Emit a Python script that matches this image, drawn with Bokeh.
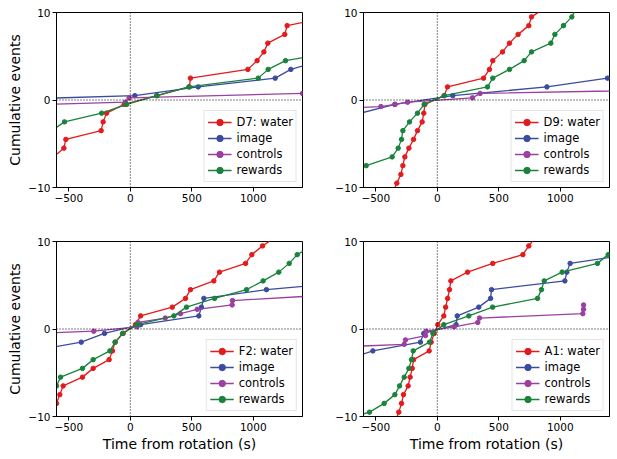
from bokeh.plotting import figure
from bokeh.models import Span, Legend, LegendItem
from bokeh.layouts import column, row
from bokeh.embed import file_html
from bokeh.resources import INLINE

# ---------------- data ----------------
D7_water_t = [-623, -540, -524, -237, -221, -193, -50, 216, 480, 489, 956, 1031, 1086, 1118, 1256, 1275, 1620]
D7_water_y = [-6.5, -5.5, -4.5, -3.5, -2.5, -1.5, -0.5, 0.5, 1.5, 2.5, 3.5, 4.5, 5.5, 6.5, 7.5, 8.5, 9.5]
D7_image_t = [-2320, 37, 552, 1178, 1305, 1555]
D7_image_y = [-0.5, 0.5, 1.5, 2.5, 3.5, 4.5]
D7_controls_t = [-1300, -40, -10, 1400]
D7_controls_y = [-0.75, -0.25, 0.25, 0.75]
D7_rewards_t = [-640, -535, -233, -30, 216, 476, 1040, 1121, 1262, 1680]
D7_rewards_y = [-3.5, -2.5, -1.5, -0.5, 0.5, 1.5, 2.5, 3.5, 4.5, 5.5]

D9_water_t = [-362, -329, -296, -280, -264, -231, -193, -161, -123, -110, -101, 56, 83, 376, 424, 451, 530, 587, 657, 744, 766, 874]
D9_water_y = [-10.5, -9.5, -8.5, -7.5, -6.5, -5.5, -4.5, -3.5, -2.5, -1.5, -0.5, 0.5, 1.5, 2.5, 3.5, 4.5, 5.5, 6.5, 7.5, 8.5, 9.5, 10.5]
D9_image_t = [-625, -345, 126, 891, 1384]
D9_image_y = [-1.5, -0.5, 0.5, 1.5, 2.5]
D9_controls_t = [-900, -459, -345, -242, 286, 348, 2230]
D9_controls_y = [-1.0, -0.75, -0.5, -0.25, 0.25, 0.75, 1.25]
D9_rewards_t = [-800, -578, -367, -318, -291, -280, -226, -161, -107, 56, 408, 451, 587, 706, 766, 923, 956, 1026, 1094, 1130]
D9_rewards_y = [-8.5, -7.5, -6.5, -5.5, -4.5, -3.5, -2.5, -1.5, -0.5, 0.5, 1.5, 2.5, 3.5, 4.5, 5.5, 6.5, 7.5, 8.5, 9.5, 10.5]

F2_water_t = [-620, -600, -573, -546, -389, -302, -172, -145, -123, -58, 42, 84, 341, 449, 489, 679, 725, 937, 988, 1075, 1180]
F2_water_y = [-9.5, -8.5, -7.5, -6.5, -5.5, -4.5, -3.5, -2.5, -1.5, -0.5, 0.5, 1.5, 2.5, 3.5, 4.5, 5.5, 6.5, 7.5, 8.5, 9.5, 10.5]
F2_image_t = [-800, -399, -210, 84, 557, 578, 598, 1107, 1900]
F2_image_y = [-2.5, -1.5, -0.5, 0.5, 1.5, 2.5, 3.5, 4.5, 5.5]
F2_controls_t = [-1200, -297, 55, 62, 284, 408, 544, 828, 831, 1450]
F2_controls_y = [-0.75, -0.25, 0.25, 0.75, 1.25, 1.75, 2.25, 2.75, 3.25, 3.75]
F2_rewards_t = [-620, -600, -567, -389, -302, -166, -123, -63, 56, 354, 457, 685, 945, 1080, 1207, 1292, 1357, 1480]
F2_rewards_y = [-7.5, -6.5, -5.5, -4.5, -3.5, -2.5, -1.5, -0.5, 0.5, 1.5, 2.5, 3.5, 4.5, 5.5, 6.5, 7.5, 8.5, 9.5]

A1_water_t = [-340, -313, -291, -275, -237, -221, -204, -193, -66, -50, -25, 4, 53, 68, 84, 99, 110, 246, 451, 696, 744, 800]
A1_water_y = [-10.5, -9.5, -8.5, -7.5, -6.5, -5.5, -4.5, -3.5, -2.5, -1.5, -0.5, 0.5, 1.5, 2.5, 3.5, 4.5, 5.5, 6.5, 7.5, 8.5, 9.5, 10.5]
A1_image_t = [-740, -524, -137, -110, 153, 162, 337, 433, 441, 1037, 1053, 1080, 1560]
A1_image_y = [-3.5, -2.5, -1.5, -0.5, 0.5, 1.5, 2.5, 3.5, 4.5, 5.5, 6.5, 7.5, 8.5]
A1_controls_t = [-700, -269, -259, -96, -90, 137, 329, 343, 1183, 1189, 1189]
A1_controls_y = [-2.0, -1.75, -1.25, -0.75, -0.25, 0.25, 0.75, 1.25, 1.75, 2.25, 2.75]
A1_rewards_t = [-800, -551, -432, -345, -307, -269, -231, -210, -196, -63, -36, 53, 256, 450, 815, 847, 869, 1015, 1302, 1389]
A1_rewards_y = [-10.5, -9.5, -8.5, -7.5, -6.5, -5.5, -4.5, -3.5, -2.5, -1.5, -0.5, 0.5, 1.5, 2.5, 3.5, 4.5, 5.5, 6.5, 7.5, 8.5]

series_labels = ["water", "image", "controls", "rewards"]
series_colors = ["#e41a1c", "#3b4ba0", "#9b3fa0", "#19833c"]
x_ticks = [-500, 0, 500, 1000]
y_ticks = [-10, 0, 10]
x_label = "Time from rotation (s)"
y_label = "Cumulative events"

FONT = "DejaVu Sans"


def make_panel(name, data, width, height, borders, xlabel, ylabel):
    bl, br, bt, bb = borders
    p = figure(width=width, height=height, x_range=(-600, 1400), y_range=(-10, 10),
               output_backend="svg", toolbar_location=None,
               min_border_left=bl, min_border_right=br, min_border_top=bt, min_border_bottom=bb)
    p.xgrid.visible = False
    p.ygrid.visible = False
    p.outline_line_color = "black"
    p.outline_line_alpha = 1
    p.outline_line_width = 1
    p.background_fill_color = "white"
    p.border_fill_color = "white"

    p.add_layout(Span(location=0, dimension="height", line_color="black", line_width=1, line_dash="1 2"))
    p.add_layout(Span(location=0, dimension="width", line_color="black", line_width=1, line_dash="1 2"))

    items = []
    for i, ((t, y), lab, col) in enumerate(zip(data, series_labels, series_colors)):
        r1 = p.line(t, y, line_color=col, line_width=1.3)
        r2 = p.scatter(t, y, size=4.5, fill_color=col, line_color=col)
        label = f"{name}: {lab}" if i == 0 else lab
        items.append(LegendItem(label=label, renderers=[r1, r2]))
    legend = Legend(items=items, location="bottom_right",
                    label_text_font=FONT, label_text_font_size="11.5px", label_text_color="black",
                    glyph_width=24, glyph_height=16, label_height=16, spacing=0,
                    padding=3, margin=5, label_standoff=5,
                    border_line_color="#cccccc", border_line_width=1,
                    background_fill_color="white", background_fill_alpha=0.8)
    p.add_layout(legend)

    for ax, ticks in ((p.xaxis, x_ticks), (p.yaxis, y_ticks)):
        ax.ticker = ticks
        ax.major_label_overrides = {v: (str(v).replace("-", "\u2212")) for v in ticks}
        ax.minor_tick_line_color = None
        ax.major_tick_in = 0
        ax.major_tick_out = 4
        ax.major_tick_line_color = "black"
        ax.axis_line_color = "black"
        ax.major_label_text_font = FONT
        ax.major_label_text_font_size = "10.5px"
        ax.major_label_text_color = "black"
        ax.major_label_standoff = 2
        ax.axis_label_text_font = FONT
        ax.axis_label_text_font_size = "14px"
        ax.axis_label_text_font_style = "normal"
        ax.axis_label_text_color = "black"
        ax.axis_label_standoff = 2
    if xlabel:
        p.xaxis.axis_label = x_label
    if ylabel:
        p.yaxis.axis_label = y_label
    return p


p1 = make_panel("D7", [(D7_water_t, D7_water_y), (D7_image_t, D7_image_y),
                       (D7_controls_t, D7_controls_y), (D7_rewards_t, D7_rewards_y)],
                307, 229, (56, 5, 12, 42), False, True)
p2 = make_panel("D9", [(D9_water_t, D9_water_y), (D9_image_t, D9_image_y),
                       (D9_controls_t, D9_controls_y), (D9_rewards_t, D9_rewards_y)],
                309, 229, (56, 7, 12, 42), False, False)
p3 = make_panel("F2", [(F2_water_t, F2_water_y), (F2_image_t, F2_image_y),
                       (F2_controls_t, F2_controls_y), (F2_rewards_t, F2_rewards_y)],
                307, 229, (56, 5, 12, 42), True, True)
p4 = make_panel("A1", [(A1_water_t, A1_water_y), (A1_image_t, A1_image_y),
                       (A1_controls_t, A1_controls_y), (A1_rewards_t, A1_rewards_y)],
                309, 229, (56, 7, 12, 42), True, False)

layout = column(row(p1, p2), row(p3, p4))
open("out.html", "w").write(file_html(layout, INLINE))
